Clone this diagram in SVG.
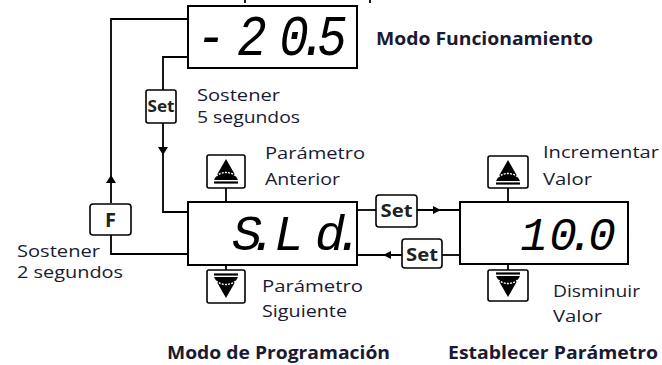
<svg xmlns="http://www.w3.org/2000/svg" width="662" height="365" viewBox="0 0 662 365">
<style>
.box{fill:#fff;stroke:#000;stroke-width:2}
.key{fill:#fff;stroke:#000;stroke-width:1.6}
.ln{fill:none;stroke:#000;stroke-width:1.8}
.ah{fill:#000}
.seg{font-family:"Liberation Mono","DejaVu Sans Mono",monospace;font-style:italic;fill:#000;text-anchor:middle}
.lbl{font-family:"Open Sans","Noto Sans",sans-serif;font-size:16px;fill:#1a1a33}
.ttl{font-family:"Open Sans","Noto Sans",sans-serif;font-size:18px;font-weight:bold;fill:#1a1a33}
.kt{font-family:"Open Sans","DejaVu Sans",sans-serif;font-weight:bold;fill:#222;text-anchor:middle}
.tri{fill:#000}
.arc{fill:none;stroke:#fff;stroke-width:1.4;stroke-dasharray:2 1.2}
.bar{stroke:#000;stroke-width:2.2}
</style>
<defs>
<g id="upicon">
<path class="tri" d="M0,-12 L12,9 L-12,9 Z"/>
<path class="arc" d="M-10,5 Q0,-2 10,5"/>
<line class="bar" x1="-12" y1="11.5" x2="12" y2="11.5"/>
</g>
<g id="downicon">
<line class="bar" x1="-12" y1="-11.5" x2="12" y2="-11.5"/>
<path class="tri" d="M0,12 L12,-9 L-12,-9 Z"/>
<path class="arc" d="M-10,-5 Q0,2 10,-5"/>
</g>
</defs>
<rect width="662" height="365" fill="#fff"/>

<g id="connectors">
<line class="ln" x1="245" y1="0" x2="245" y2="3"/>
<line class="ln" x1="370" y1="0" x2="370" y2="3"/>
<polyline class="ln" points="188,254 111,254 111,234"/>
<polyline class="ln" points="111,203 111,19 188,19"/>
<path class="ah" d="M111,175 L116,183 L106,183 Z"/>
<polyline class="ln" points="188,57 163,57 163,90"/>
<polyline class="ln" points="163,123 163,212 188,212"/>
<path class="ah" d="M163,155 L158,147 L168,147 Z"/>
<line class="ln" x1="357" y1="210" x2="376" y2="210"/>
<line class="ln" x1="417" y1="210" x2="460" y2="210"/>
<path class="ah" d="M441,210 L433,206 L433,214 Z"/>
<line class="ln" x1="460" y1="255" x2="442" y2="255"/>
<line class="ln" x1="402" y1="255" x2="357" y2="255"/>
<path class="ah" d="M383,255 L391,251 L391,259 Z"/>
<line class="ln" x1="226" y1="188" x2="226" y2="202"/>
<line class="ln" x1="226" y1="265" x2="226" y2="270"/>
<line class="ln" x1="508" y1="188" x2="508" y2="202"/>
<line class="ln" x1="508" y1="264" x2="508" y2="270"/>
</g>

<g id="node-run-display">
<rect class="box" x="188" y="6" width="169" height="62"/>
<text class="seg" font-size="58" transform="scale(0.85 1)" x="248.2 296.5 345.9 368.2 390.6" y="55">-20.5</text>
</g>
<g id="title-run">
<text class="ttl" x="376" y="45" textLength="217" lengthAdjust="spacingAndGlyphs">Modo Funcionamiento</text>
</g>

<g id="node-set-hold">
<rect class="key" x="146" y="90" width="30" height="33" rx="2"/>
<text class="kt" font-size="16" x="161" y="112" textLength="27" lengthAdjust="spacingAndGlyphs">Set</text>
<text class="lbl" x="197" y="101" textLength="83" lengthAdjust="spacingAndGlyphs">Sostener</text>
<text class="lbl" x="197" y="123" textLength="103" lengthAdjust="spacingAndGlyphs">5 segundos</text>
</g>

<g id="node-f">
<rect class="key" x="90" y="204" width="41" height="31" rx="3"/>
<text class="kt" font-size="20" x="110.5" y="227">F</text>
<text class="lbl" x="17" y="257" textLength="83" lengthAdjust="spacingAndGlyphs">Sostener</text>
<text class="lbl" x="17" y="278" textLength="106" lengthAdjust="spacingAndGlyphs">2 segundos</text>
</g>

<g id="node-prog-display">
<rect class="box" x="188" y="202" width="169" height="63"/>
<text class="seg" font-size="50" x="247 263 289 330 349" y="250">S.Ld.</text>
</g>

<g id="node-prog-up">
<rect class="key" x="207" y="155" width="38" height="33" rx="2"/>
<use href="#upicon" x="226" y="171"/>
<text class="lbl" x="265" y="159" textLength="100" lengthAdjust="spacingAndGlyphs">Parámetro</text>
<text class="lbl" x="265" y="185" textLength="75" lengthAdjust="spacingAndGlyphs">Anterior</text>
</g>

<g id="node-prog-down">
<rect class="key" x="207" y="270" width="38" height="33" rx="2"/>
<use href="#downicon" x="226" y="286"/>
<text class="lbl" x="262" y="292" textLength="101" lengthAdjust="spacingAndGlyphs">Parámetro</text>
<text class="lbl" x="262" y="317" textLength="85" lengthAdjust="spacingAndGlyphs">Siguiente</text>
</g>

<g id="node-set-enter">
<rect class="key" x="376" y="195" width="41" height="32" rx="3"/>
<text class="kt" font-size="17" x="396.5" y="217" textLength="32" lengthAdjust="spacingAndGlyphs">Set</text>
</g>

<g id="node-set-exit">
<rect class="key" x="402" y="239" width="40" height="29" rx="3"/>
<text class="kt" font-size="17" x="422" y="261" textLength="32" lengthAdjust="spacingAndGlyphs">Set</text>
</g>

<g id="node-value-display">
<rect class="box" x="460" y="202" width="168" height="62"/>
<text class="seg" font-size="46" x="534 563 581 602" y="250">10.0</text>
</g>

<g id="node-value-up">
<rect class="key" x="488" y="156" width="40" height="32" rx="2"/>
<use href="#upicon" x="508" y="172"/>
<text class="lbl" x="543" y="158" textLength="116" lengthAdjust="spacingAndGlyphs">Incrementar</text>
<text class="lbl" x="543" y="185" textLength="49" lengthAdjust="spacingAndGlyphs">Valor</text>
</g>

<g id="node-value-down">
<rect class="key" x="488" y="270" width="40" height="31" rx="2"/>
<use href="#downicon" x="508" y="285"/>
<text class="lbl" x="553" y="297" textLength="87" lengthAdjust="spacingAndGlyphs">Disminuir</text>
<text class="lbl" x="553" y="322" textLength="49" lengthAdjust="spacingAndGlyphs">Valor</text>
</g>

<g id="titles">
<text class="ttl" font-size="17" x="167" y="359" textLength="223" lengthAdjust="spacingAndGlyphs">Modo de Programación</text>
<text class="ttl" font-size="17" x="448" y="359" textLength="210" lengthAdjust="spacingAndGlyphs">Establecer Parámetro</text>
</g>
</svg>
